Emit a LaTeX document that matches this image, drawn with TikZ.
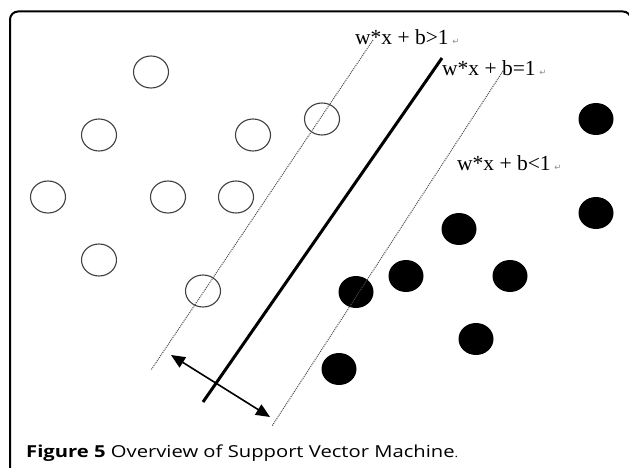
\documentclass[tikz,border=0pt]{standalone}
\usepackage{fontspec}
\usepackage{graphicx}
\setmainfont{Liberation Serif}
\newfontfamily\capfont{Open Sans}
\newfontfamily\symfont{DejaVu Sans}
\usetikzlibrary{shapes.geometric,arrows.meta}
% small grey return mark after each equation
\newcommand{\retmark}{\,{\symfont\fontsize{8.5}{8.5}\selectfont\textcolor{black!45}{↵}}}
\begin{document}
\begin{tikzpicture}[x=1pt,y=-1pt,
  opendot/.style={ellipse,draw=black!75,line width=1.1pt,minimum width=35pt,minimum height=32pt,inner sep=0pt},
  filldot/.style={ellipse,fill=black,minimum width=35pt,minimum height=32pt,inner sep=0pt},
  marginline/.style={draw=black!70,line width=1pt,dash pattern=on 1pt off 1pt},
  hyperline/.style={draw=black,line width=3pt},
  widtharrow/.style={draw=black,line width=1.6pt,{Triangle[length=14pt,width=12pt]}-{Triangle[length=14pt,width=12pt]}},
  eqn/.style={anchor=base west,inner sep=0pt,font=\fontsize{21.5}{21.5}\selectfont},
  caption/.style={anchor=base west,inner sep=0pt,font=\capfont\fontsize{16.5}{16.5}\selectfont}
]
\useasboundingbox (0,0) rectangle (629,468);

% outer frame (only top and left edges fall inside the page)
\begin{scope}
\clip (0,0) rectangle (629,468);
\draw[line width=2pt,rounded corners=8pt] (10,472) -- (10,11.5) -- (631,11.5) -- (631,40);
\end{scope}

% class A: open circles
\node[opendot] (a1) at (151,72) {};
\node[opendot] (a2) at (99,135) {};
\node[opendot] (a3) at (253,135) {};
\node[opendot] (a4) at (322,119) {};
\node[opendot] (a5) at (48,197) {};
\node[opendot] (a6) at (168,197) {};
\node[opendot] (a7) at (236,197) {};
\node[opendot] (a8) at (99,260) {};
\node[opendot] (a9) at (203,291) {};

% class B: filled circles
\node[filldot] (b1) at (596,119) {};
\node[filldot] (b2) at (596,213) {};
\node[filldot] (b3) at (459,229) {};
\node[filldot] (b4) at (406,276) {};
\node[filldot] (b5) at (510,276) {};
\node[filldot] (b6) at (356,292) {};
\node[filldot] (b7) at (476,339) {};
\node[filldot] (b8) at (339,369) {};

% separating hyperplane and the two margins
\coordinate (pTop) at (373,40);
\coordinate (pBot) at (151,370);
\coordinate (hTop) at (442,58);
\coordinate (hBot) at (203,402);
\coordinate (nTop) at (503,71);
\coordinate (nBot) at (272,426);
\draw[marginline] (pTop) -- (pBot);
\draw[hyperline] (hTop) -- (hBot);
\draw[marginline] (nTop) -- (nBot);

% margin width
\coordinate (wA) at (171,355);
\coordinate (wB) at (270,417);
\draw[widtharrow] (wA) -- (wB);

% equations
\node[eqn] (e1) at (355,45) {w*x + b>1\retmark};
\node[eqn] (e2) at (442,76) {w*x + b=1\retmark};
\node[eqn] (e3) at (457,170) {w*x + b<1\retmark};

% caption, stretched sideways to the full line length
\node[caption] (cap) at (26,457) {\resizebox{432pt}{\height}{\textbf{Figure 5} Overview of Support Vector Machine{\fontsize{11}{11}\selectfont .}}};
\end{tikzpicture}
\end{document}
